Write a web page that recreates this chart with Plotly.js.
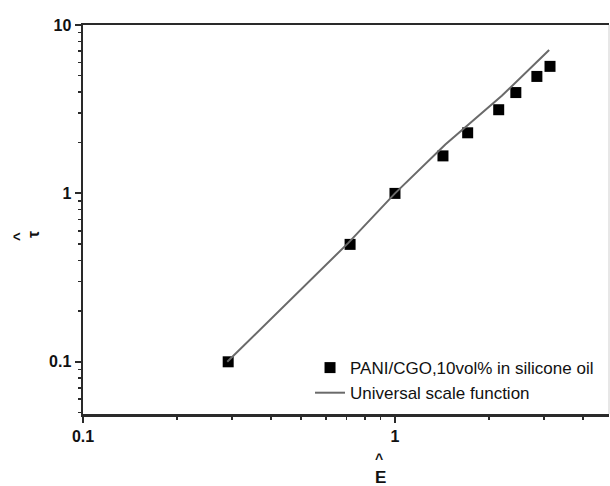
<!DOCTYPE html>
<html>
<head>
<meta charset="utf-8">
<script src="https://cdn.plot.ly/plotly-3.0.1.min.js"></script>
<style>html,body{margin:0;padding:0;background:#fff;}#chart{width:610px;height:486px;}</style>
</head>
<body>
<div id="chart"></div>
<script>
// Data
const expE   = [0.292, 0.718, 1.0, 1.425, 1.71, 2.15, 2.44, 2.85, 3.14];
const expTau = [0.100, 0.498, 1.0, 1.67, 2.29, 3.14, 3.97, 4.95, 5.68];
const fitE   = [0.29, 0.71, 1.0, 1.45, 2.2, 3.12];
const fitTau = [0.10, 0.51, 1.0, 1.95, 3.8, 7.1];
const seriesNames = ["PANI/CGO,10vol% in silicone oil", "Universal scale function"];
const tickVals = [0.1, 1, 10];
const tickText = ["<b>0.1</b>", "<b>1</b>", "<b>10</b>"];

const FONT = "Liberation Sans, Arial, sans-serif";

const traces = [
  {
    x: expE, y: expTau, type: "scatter", mode: "markers", name: seriesNames[0],
    marker: {symbol: "square", size: 11, color: "#000"}
  },
  {
    x: fitE, y: fitTau, type: "scatter", mode: "lines", name: seriesNames[1],
    line: {color: "#6a6a6a", width: 2}
  }
];

const axisCommon = {
  type: "log",
  showgrid: false, zeroline: false,
  showline: true, linecolor: "#2a2a2a", linewidth: 2.5,
  ticks: "outside", ticklen: 6, tickwidth: 2, tickcolor: "#2a2a2a",
  tickmode: "array", tickvals: tickVals, ticktext: tickText,
  tickfont: {family: FONT, size: 16, color: "#111", weight: 700},
  minor: {ticks: "outside", ticklen: 3, tickwidth: 1.5, tickcolor: "#2a2a2a", dtick: "D1", showgrid: false}
};

function ann(px, py, txt, size, angle) {
  return {xref: "paper", yref: "paper", x: (px-83)/526, y: (414-py)/389, text: txt,
          xanchor: "center", yanchor: "middle", showarrow: false, textangle: angle || 0,
          font: {family: FONT, size: size, color: "#111", weight: 700}};
}

const layout = {
  width: 610, height: 486,
  margin: {l: 83, r: 1, t: 25, b: 72},
  paper_bgcolor: "#fff", plot_bgcolor: "#fff",
  font: {family: FONT, color: "#111"},
  showlegend: true,
  legend: {
    x: 0.4316, y: 0.086, xanchor: "left", yanchor: "middle",
    bgcolor: "rgba(0,0,0,0)", borderwidth: 0,
    font: {family: FONT, size: 17, color: "#111"}
  },
  xaxis: Object.assign({}, axisCommon, {range: [-1, 0.686], mirror: true}),
  yaxis: Object.assign({}, axisCommon, {range: [-1.31, 1], mirror: false}),
  shapes: [
    {type: "line", xref: "paper", yref: "paper", x0: 1, x1: 1, y0: 0, y1: 1,
     line: {color: "#cfcfcf", width: 1}}
  ],
  annotations: [
    ann(18, 237, "^", 15, -90),
    ann(33, 235, "τ", 16, -90),
    ann(379, 459, "^", 14, 0),
    ann(380, 477, "E", 17, 0)
  ]
};

Plotly.newPlot("chart", traces, layout, {displayModeBar: false, staticPlot: true});
</script>
</body>
</html>
